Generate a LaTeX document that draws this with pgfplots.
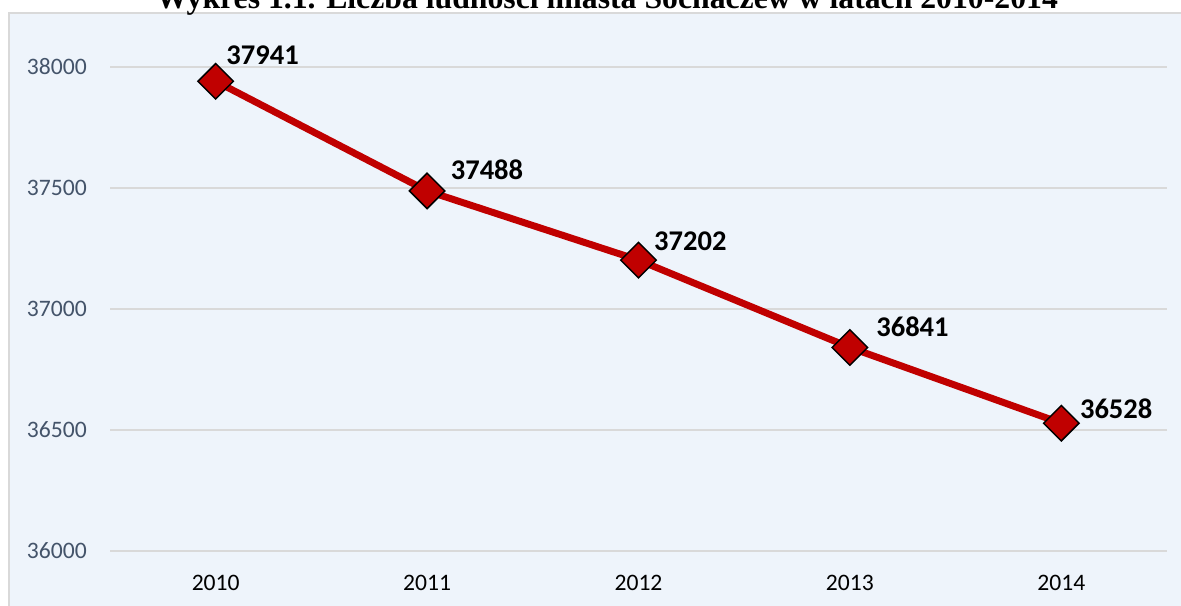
\documentclass[border=0pt]{standalone}
\usepackage{pgfplots}
\pgfplotsset{compat=1.18}
\usepackage{fontspec}
\setmainfont{Carlito}
\newfontfamily\titlefont{Liberation Serif}
\definecolor{bgblue}{RGB}{238,244,251}
\definecolor{framegray}{RGB}{217,217,217}
\definecolor{gridgray}{RGB}{217,217,217}
\definecolor{linered}{RGB}{192,0,0}
\definecolor{ticklab}{RGB}{68,84,106}
\begin{document}
\begin{tikzpicture}
\path[use as bounding box, clip] (0,0) rectangle (885.75pt,-454.5pt);
\fill[white] (0,0) rectangle (885.75pt,-454.5pt);
\filldraw[fill=bgblue, draw=framegray, line width=1.2pt] (6.75pt,-9.75pt) rectangle (920pt,-480pt);
\node[anchor=base, inner sep=0pt, font=\titlefont\bfseries\fontsize{23.8pt}{26pt}\selectfont] at (455.25pt,-6.4pt) {Wykres 1.1. Liczba ludności miasta Sochaczew w latach 2010-2014};
\begin{axis}[
  at={(82.5pt,-413.25pt)}, anchor=south west,
  scale only axis, width=792.75pt, height=363pt,
  xmin=2009.5, xmax=2014.5, ymin=36000, ymax=38000,
  xtick={2010,2011,2012,2013,2014},
  ytick={36000,36500,37000,37500,38000},
  scaled ticks=false,
  axis line style={draw=none},
  major tick length=0pt,
  ymajorgrids, grid style={color=gridgray, line width=1.1pt},
  clip=false,
  /pgf/number format/assume math mode=true,
  /pgf/number format/1000 sep={},
  yticklabel style={anchor=east, inner sep=0pt, xshift=-17.25pt, text=ticklab, font=\fontsize{17.7pt}{20pt}\selectfont},
  xticklabel style={anchor=north, inner sep=0pt, yshift=-18pt, text=black, font=\fontsize{17.7pt}{20pt}\selectfont},
  xticklabels={2010,2011,2012,2013,2014},
  yticklabels={36000,36500,37000,37500,38000},
]
\addplot[color=linered, line width=5.2pt,
  mark=square*, mark size=9.4pt,
  mark options={rotate=45, fill=linered, draw=black, line width=1.1pt},
  nodes near coords,
  point meta=explicit,
  visualization depends on={\thisrow{dx} \as \dx},
  visualization depends on={\thisrow{dy} \as \dy},
  every node near coord/.append style={anchor=base west, inner sep=0pt,
    xshift=0.75*\dx pt, yshift=0.75*\dy pt, text=black,
    font=\bfseries\fontsize{21.4pt}{24pt}\selectfont,
    /pgf/number format/fixed, /pgf/number format/1000 sep={}},
] table[x=x, y=y, meta=y] {
x y dx dy
2010 37941 10 17
2011 37488 23 11.7
2012 37202 15 9.3
2013 36841 25.7 11.3
2014 36528 18 4.3
};
\end{axis}
\end{tikzpicture}
\end{document}
